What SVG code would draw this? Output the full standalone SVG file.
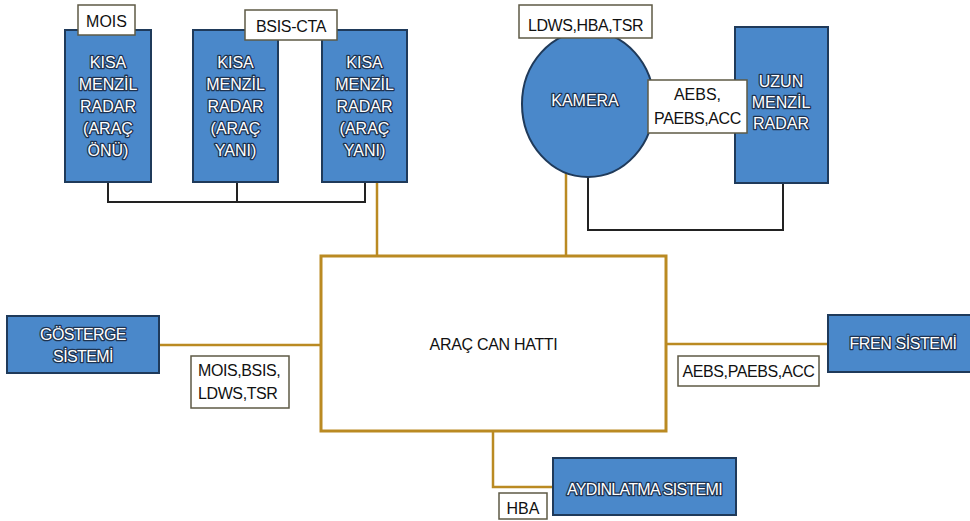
<svg xmlns="http://www.w3.org/2000/svg" width="970" height="521" viewBox="0 0 970 521">
<style>
.blue{fill:#4A88CA;stroke:#1F3A5A;stroke-width:2}
.wt{font-family:"Liberation Sans",Arial,sans-serif;font-size:16px;fill:#ffffff;stroke:#1E3350;stroke-width:2.6px;paint-order:stroke;stroke-linejoin:round;text-anchor:middle}
.lbl{fill:#ffffff;stroke:#5E5A45;stroke-width:1.5}
.bt{font-family:"Liberation Sans",Arial,sans-serif;font-size:16px;fill:#111111}
.mid{text-anchor:middle}
.gold{fill:none;stroke:#BA8A22;stroke-width:2.5}
.blk{fill:none;stroke:#222222;stroke-width:2}
</style>
<rect width="970" height="521" fill="#ffffff"/>
<g id="connectors">
<path class="blk" d="M108,182 V202 H365 V182 M237,182 V202"/>
<path class="gold" d="M377,182 V256"/>
<path class="gold" d="M566,172 V256"/>
<path class="blk" d="M588,176 V230 H783 V183"/>
<path class="gold" d="M159,345 H321"/>
<path class="gold" d="M666,344 H828"/>
<path class="gold" d="M493,431 V487 H553"/>
</g>
<g id="can">
<rect x="321" y="256" width="345" height="175" fill="#ffffff" stroke="#BA8A22" stroke-width="3"/>
<text class="bt mid" x="493.5" y="350" letter-spacing="-0.3">ARAÇ CAN HATTI</text>
</g>
<g id="radar1">
<rect class="blue" x="65" y="30" width="86" height="152"/>
<text class="wt" x="108" y="68">KISA</text>
<text class="wt" x="108" y="90">MENZİL</text>
<text class="wt" x="108" y="112">RADAR</text>
<text class="wt" x="108" y="134">(ARAÇ</text>
<text class="wt" x="108" y="156">ÖNÜ)</text>
</g>
<g id="radar2">
<rect class="blue" x="193" y="30" width="85" height="152"/>
<text class="wt" x="235.5" y="68">KISA</text>
<text class="wt" x="235.5" y="90">MENZİL</text>
<text class="wt" x="235.5" y="112">RADAR</text>
<text class="wt" x="235.5" y="134">(ARAÇ</text>
<text class="wt" x="235.5" y="156">YANI)</text>
</g>
<g id="radar3">
<rect class="blue" x="322" y="30" width="85" height="152"/>
<text class="wt" x="364.5" y="68">KISA</text>
<text class="wt" x="364.5" y="90">MENZİL</text>
<text class="wt" x="364.5" y="112">RADAR</text>
<text class="wt" x="364.5" y="134">(ARAÇ</text>
<text class="wt" x="364.5" y="156">YANI)</text>
</g>
<g id="mois-label">
<rect class="lbl" x="78" y="5" width="57" height="30"/>
<text class="bt mid" x="106.5" y="27">MOIS</text>
</g>
<g id="bsis-label">
<rect class="lbl" x="245" y="10" width="92" height="30"/>
<text class="bt mid" x="291" y="32" letter-spacing="-0.3">BSIS-CTA</text>
</g>
<g id="kamera">
<ellipse class="blue" cx="588" cy="104" rx="66" ry="73"/>
<text class="wt" x="585" y="106">KAMERA</text>
</g>
<g id="ldws-label">
<rect class="lbl" x="519" y="5" width="133" height="33"/>
<text class="bt mid" x="585.5" y="31" letter-spacing="-0.4">LDWS,HBA,TSR</text>
</g>
<g id="uzun-radar">
<rect class="blue" x="735" y="27" width="93" height="156"/>
<text class="wt" x="781" y="87">UZUN</text>
<text class="wt" x="781" y="108">MENZİL</text>
<text class="wt" x="781" y="129">RADAR</text>
</g>
<g id="aebs-label-top">
<rect class="lbl" x="648" y="80" width="99" height="53"/>
<text class="bt mid" x="697.5" y="100">AEBS,</text>
<text class="bt mid" x="697.5" y="124" letter-spacing="-0.4">PAEBS,ACC</text>
</g>
<g id="gosterge">
<rect class="blue" x="7" y="316" width="152" height="57"/>
<text class="wt" x="83" y="340" letter-spacing="-0.6">GÖSTERGE</text>
<text class="wt" x="83" y="362" letter-spacing="-0.6">SİSTEMİ</text>
</g>
<g id="gosterge-label">
<rect class="lbl" x="191" y="356" width="98" height="52"/>
<text class="bt" x="198" y="376" letter-spacing="-0.4">MOIS,BSIS,</text>
<text class="bt" x="198" y="399" letter-spacing="-0.4">LDWS,TSR</text>
</g>
<g id="fren">
<rect class="blue" x="828" y="315" width="145" height="57"/>
<text class="wt" x="903" y="349" letter-spacing="-0.4">FREN SİSTEMİ</text>
</g>
<g id="fren-label">
<rect class="lbl" x="678" y="356" width="141" height="30"/>
<text class="bt mid" x="748.5" y="377" letter-spacing="-0.4">AEBS,PAEBS,ACC</text>
</g>
<g id="aydinlatma">
<rect class="blue" x="553" y="458" width="183" height="57"/>
<text class="wt" x="644.5" y="495" letter-spacing="-0.7">AYDINLATMA SISTEMI</text>
</g>
<g id="hba-label">
<rect class="lbl" x="499" y="493" width="48" height="26"/>
<text class="bt mid" x="523" y="514">HBA</text>
</g>
</svg>
